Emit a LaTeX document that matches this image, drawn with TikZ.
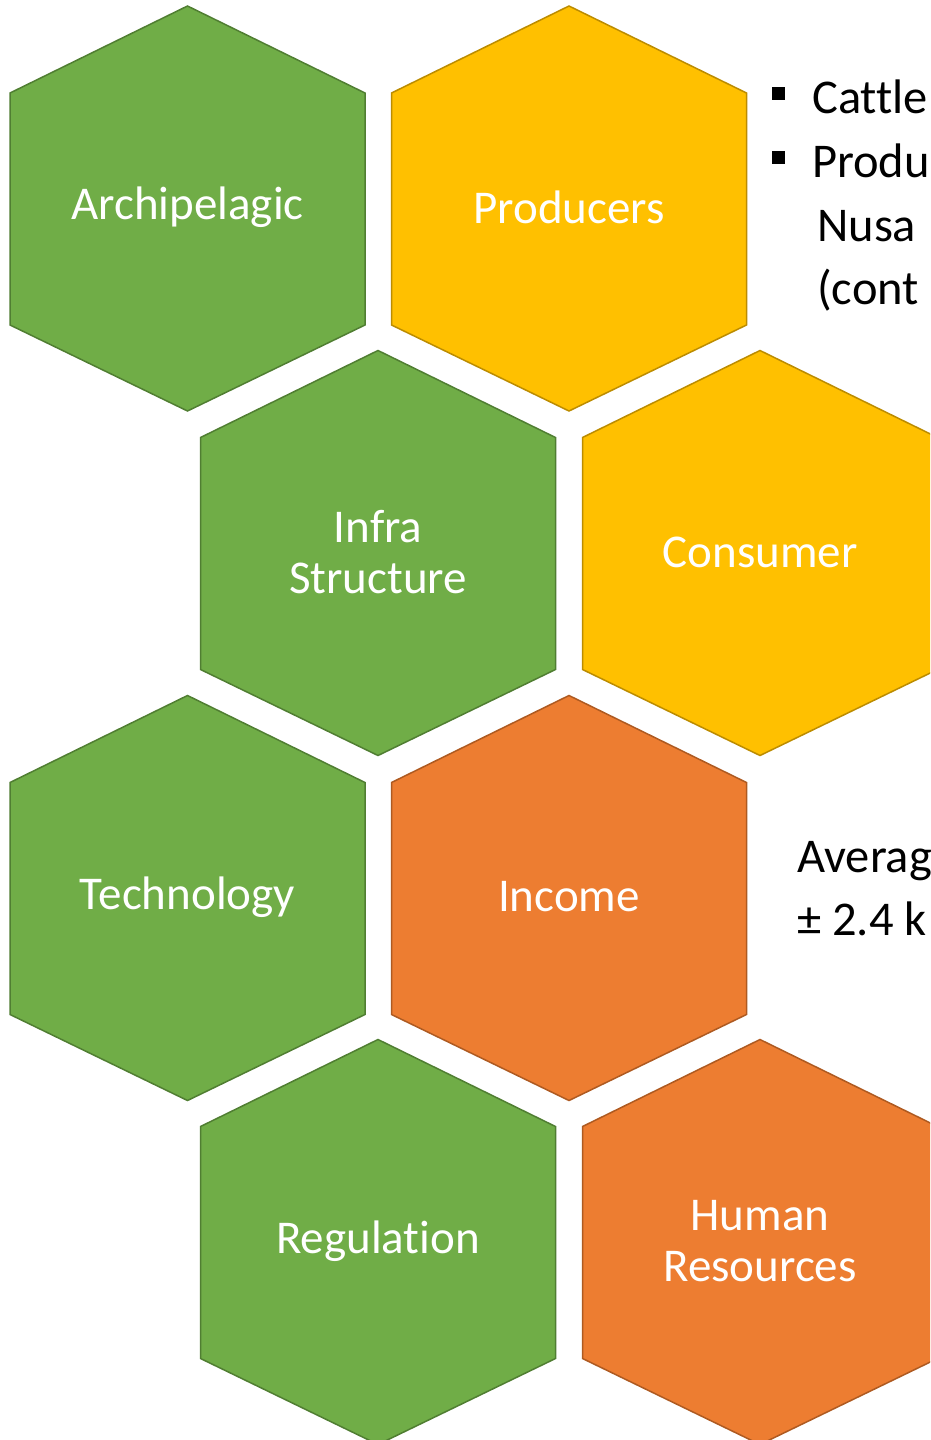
\documentclass[tikz,border=0pt]{standalone}
\usepackage{fontspec}
\setmainfont{Carlito}[Ligatures={NoCommon}]
\definecolor{hgreen}{HTML}{70AD47}
\definecolor{hgreenb}{HTML}{507E32}
\definecolor{hyellow}{HTML}{FFC000}
\definecolor{hyellowb}{HTML}{BC8C00}
\definecolor{horange}{HTML}{ED7D31}
\definecolor{horangeb}{HTML}{AE5A21}
\tikzset{
  greenhex/.style={fill=hgreen,draw=hgreenb,line width=1.5pt,line join=miter},
  yellowhex/.style={fill=hyellow,draw=hyellowb,line width=1.5pt,line join=miter},
  orangehex/.style={fill=horange,draw=horangeb,line width=1.5pt,line join=miter},
  hextext/.style={text=white,align=center,font=\fontsize{47pt}{51pt}\selectfont,inner sep=0pt},
  sidetext/.style={text=black,anchor=base west,font=\fontsize{48.5pt}{51pt}\selectfont,inner sep=0pt}
}
\newcommand\hexcell[5]{%
  \draw[#4] (#2,#3-202.5) -- (#2+177.5,#3-115.5) -- (#2+177.5,#3+116.5) -- (#2,#3+202.5) -- (#2-177.5,#3+116.5) -- (#2-177.5,#3-115.5) -- cycle;
  \node[hextext] (#1) at (#2,#3-1) {#5};}
\newcommand\sqbullet{\rule[13pt]{13pt}{13pt}\hspace{27pt}}
\begin{document}
\begin{tikzpicture}[x=1pt,y=-1pt]
\useasboundingbox (0,0) rectangle (930,1440);
\clip (0,0) rectangle (930,1440);
\hexcell{archi}{187.5}{208.5}{greenhex}{Archipelagic}
\hexcell{prod}{569}{208.5}{yellowhex}{Producers}
\hexcell{infra}{378}{553}{greenhex}{Infra\\Structure}
\hexcell{cons}{760}{553}{yellowhex}{Consumer}
\hexcell{tech}{187.5}{898}{greenhex}{Technology}
\hexcell{inc}{569}{898}{orangehex}{Income}
\hexcell{reg}{378}{1242}{greenhex}{Regulation}
\hexcell{hr}{760}{1242}{orangehex}{Human\\Resources}
\node[sidetext] (b1) at (772,113) {\sqbullet Cattle};
\node[sidetext] (b2) at (772,177) {\sqbullet Produ};
\node[sidetext] (b3) at (817,241) {Nusa};
\node[sidetext] (b4) at (817,304) {(cont};
\node[sidetext] (a1) at (797,872) {Averag};
\node[sidetext] (a2) at (797,935) {± 2.4 k};
\end{tikzpicture}
\end{document}
